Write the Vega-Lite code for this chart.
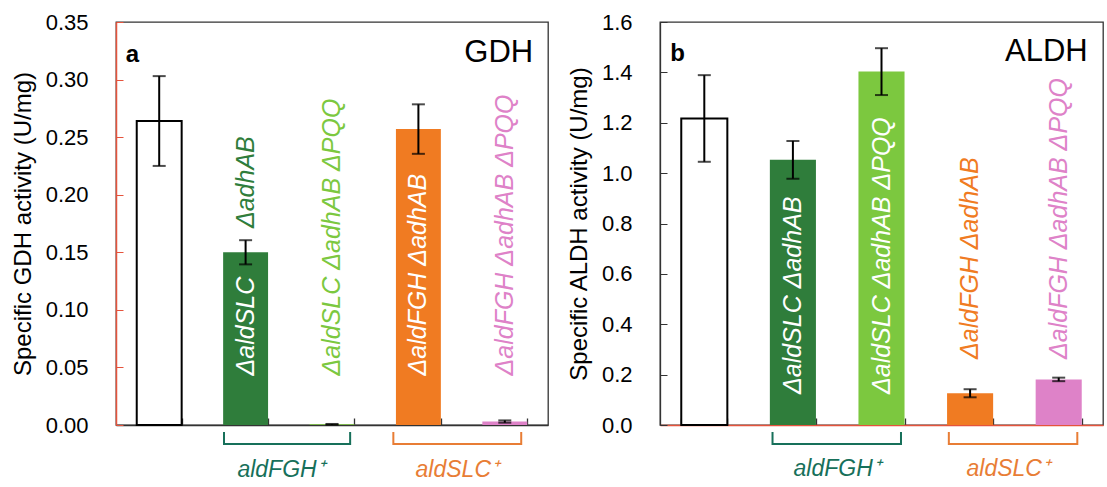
{
  "$schema": "https://vega.github.io/schema/vega-lite/v6.json",
  "background": "white",
  "padding": {"left": 10, "top": 10, "right": 0, "bottom": 0},
  "bounds": "flush",
  "spacing": 112,
  "config": {
    "font": "Liberation Sans",
    "view": {"stroke": "#333333", "strokeWidth": 1.3},
    "axis": {"grid": false, "labelColor": "black", "titleColor": "black", "labelFontSize": 22, "titleFontSize": 24, "titleFontWeight": "normal"}
  },
  "datasets": {
    "gdh": [
      {"strain": "WT", "mean": 0.264, "sd": 0.039},
      {"strain": "ΔaldSLC ΔadhAB", "mean": 0.150, "sd": 0.0105},
      {"strain": "ΔaldSLC ΔadhAB ΔPQQ", "mean": 0.0006, "sd": 0.0003},
      {"strain": "ΔaldFGH ΔadhAB", "mean": 0.257, "sd": 0.0215},
      {"strain": "ΔaldFGH ΔadhAB ΔPQQ", "mean": 0.003, "sd": 0.001}
    ],
    "aldh": [
      {"strain": "WT", "mean": 1.217, "sd": 0.172},
      {"strain": "ΔaldSLC ΔadhAB", "mean": 1.053, "sd": 0.075},
      {"strain": "ΔaldSLC ΔadhAB ΔPQQ", "mean": 1.403, "sd": 0.093},
      {"strain": "ΔaldFGH ΔadhAB", "mean": 0.126, "sd": 0.016},
      {"strain": "ΔaldFGH ΔadhAB ΔPQQ", "mean": 0.181, "sd": 0.007}
    ],
    "gdhNames": [
      {"strain": "ΔaldSLC ΔadhAB", "text": "ΔaldSLC", "at": 0.043, "tone": "in"},
      {"strain": "ΔaldSLC ΔadhAB", "text": "ΔadhAB", "at": 0.171, "tone": "out"},
      {"strain": "ΔaldSLC ΔadhAB ΔPQQ", "text": "ΔaldSLC ΔadhAB ΔPQQ", "at": 0.043, "tone": "out"},
      {"strain": "ΔaldFGH ΔadhAB", "text": "ΔaldFGH ΔadhAB", "at": 0.043, "tone": "in"},
      {"strain": "ΔaldFGH ΔadhAB ΔPQQ", "text": "ΔaldFGH ΔadhAB ΔPQQ", "at": 0.043, "tone": "out"}
    ],
    "aldhNames": [
      {"strain": "ΔaldSLC ΔadhAB", "text": "ΔaldSLC ΔadhAB", "at": 0.123, "tone": "in"},
      {"strain": "ΔaldSLC ΔadhAB ΔPQQ", "text": "ΔaldSLC ΔadhAB ΔPQQ", "at": 0.123, "tone": "in"},
      {"strain": "ΔaldFGH ΔadhAB", "text": "ΔaldFGH ΔadhAB", "at": 0.262, "tone": "out"},
      {"strain": "ΔaldFGH ΔadhAB ΔPQQ", "text": "ΔaldFGH ΔadhAB ΔPQQ", "at": 0.262, "tone": "out"}
    ],
    "gdhBrackets": [
      {"set": "aldFGH", "k": 1, "u": 1.25, "v": -0.006},
      {"set": "aldFGH", "k": 2, "u": 1.25, "v": -0.0165},
      {"set": "aldFGH", "k": 3, "u": 2.71, "v": -0.0165},
      {"set": "aldFGH", "k": 4, "u": 2.71, "v": -0.006},
      {"set": "aldSLC", "k": 1, "u": 3.21, "v": -0.006},
      {"set": "aldSLC", "k": 2, "u": 3.21, "v": -0.0165},
      {"set": "aldSLC", "k": 3, "u": 4.69, "v": -0.0165},
      {"set": "aldSLC", "k": 4, "u": 4.69, "v": -0.006}
    ],
    "aldhBrackets": [
      {"set": "aldFGH", "k": 1, "u": 1.27, "v": -0.028},
      {"set": "aldFGH", "k": 2, "u": 1.27, "v": -0.075},
      {"set": "aldFGH", "k": 3, "u": 2.72, "v": -0.075},
      {"set": "aldFGH", "k": 4, "u": 2.72, "v": -0.028},
      {"set": "aldSLC", "k": 1, "u": 3.26, "v": -0.028},
      {"set": "aldSLC", "k": 2, "u": 3.26, "v": -0.075},
      {"set": "aldSLC", "k": 3, "u": 4.71, "v": -0.075},
      {"set": "aldSLC", "k": 4, "u": 4.71, "v": -0.028}
    ],
    "gdhSets": [
      {"set": "aldFGH", "text": "aldFGH⁺", "u": 1.91, "v": -0.045},
      {"set": "aldSLC", "text": "aldSLC⁺", "u": 3.95, "v": -0.045}
    ],
    "aldhSets": [
      {"set": "aldFGH", "text": "aldFGH⁺", "u": 2.0, "v": -0.202},
      {"set": "aldSLC", "text": "aldSLC⁺", "u": 3.93, "v": -0.202}
    ]
  },
  "hconcat": [
    {
      "width": 432,
      "height": 403,
      "layer": [
        {
          "layer": [
            {
              "data": {"name": "gdh"},
              "transform": [{"filter": "datum.strain === 'WT'"}],
              "mark": {"type": "bar", "fill": "white", "stroke": "black", "strokeWidth": 2},
              "encoding": {
                "x": {"field": "strain", "type": "nominal", "sort": null,
                      "scale": {"domain": ["WT", "ΔaldSLC ΔadhAB", "ΔaldSLC ΔadhAB ΔPQQ", "ΔaldFGH ΔadhAB", "ΔaldFGH ΔadhAB ΔPQQ"], "paddingInner": 0.48, "paddingOuter": 0.24},
                      "axis": {"title": null, "labels": false, "tickBand": "extent", "tickSize": -7, "domainColor": "#333333", "tickColor": "#333333", "domainWidth": 1.3, "tickWidth": 1.3}},
                "y": {"field": "mean", "type": "quantitative", "title": "Specific GDH activity (U/mg)",
                      "scale": {"domain": [0, 0.35], "nice": false},
                      "axis": {"values": [0, 0.05, 0.1, 0.15, 0.2, 0.25, 0.3, 0.35], "format": ".2f",
                               "tickSize": -7, "labelPadding": 35, "titlePadding": 10, "domainColor": "#e5533c", "tickColor": "#e5533c", "domainWidth": 1.5}}
              }
            },
            {
              "data": {"name": "gdh"},
              "transform": [{"filter": "datum.strain !== 'WT'"}],
              "mark": {"type": "bar"},
              "encoding": {
                "x": {"field": "strain", "type": "nominal", "sort": null},
                "y": {"field": "mean", "type": "quantitative", "title": "Specific GDH activity (U/mg)"},
                "color": {"field": "strain", "type": "nominal", "legend": null,
                          "scale": {"domain": ["WT", "ΔaldSLC ΔadhAB", "ΔaldSLC ΔadhAB ΔPQQ", "ΔaldFGH ΔadhAB", "ΔaldFGH ΔadhAB ΔPQQ", "aldFGH", "aldSLC"],
                                    "range": ["#ffffff", "#2f7d3b", "#7cc83f", "#f07b22", "#de82c8", "#17705a", "#e87d35"]}}
              }
            },
            {
              "data": {"name": "gdh"},
              "mark": {"type": "errorbar", "ticks": {"size": 13, "thickness": 2, "color": "black"}, "rule": {"strokeWidth": 2, "color": "black"}},
              "encoding": {
                "x": {"field": "strain", "type": "nominal", "sort": null},
                "y": {"field": "mean", "type": "quantitative", "title": "Specific GDH activity (U/mg)"},
                "yError": {"field": "sd"}
              }
            },
            {
              "data": {"name": "gdhNames"},
              "transform": [{"filter": "datum.tone === 'in'"}],
              "mark": {"type": "text", "angle": 270, "align": "left", "baseline": "middle", "fontSize": 25, "fontStyle": "italic", "fill": "white"},
              "encoding": {
                "x": {"field": "strain", "type": "nominal", "sort": null},
                "y": {"field": "at", "type": "quantitative", "title": "Specific GDH activity (U/mg)"},
                "text": {"field": "text"}
              }
            },
            {
              "data": {"name": "gdhNames"},
              "transform": [{"filter": "datum.tone === 'out'"}],
              "mark": {"type": "text", "angle": 270, "align": "left", "baseline": "middle", "fontSize": 25, "fontStyle": "italic"},
              "encoding": {
                "x": {"field": "strain", "type": "nominal", "sort": null},
                "y": {"field": "at", "type": "quantitative", "title": "Specific GDH activity (U/mg)"},
                "text": {"field": "text"},
                "color": {"field": "strain", "type": "nominal"}
              }
            },
            {
              "data": {"values": [{"tag": "a"}]},
              "mark": {"type": "text", "align": "left", "baseline": "alphabetic", "fontSize": 24, "fontWeight": "bold", "dx": -11, "color": "black"},
              "encoding": {
                "x": {"datum": "WT", "bandPosition": 0},
                "y": {"datum": 0.315},
                "text": {"field": "tag"}
              }
            },
            {
              "data": {"values": [{"tag": "GDH"}]},
              "mark": {"type": "text", "align": "right", "baseline": "alphabetic", "fontSize": 31, "dx": 6, "color": "black"},
              "encoding": {
                "x": {"datum": "ΔaldFGH ΔadhAB ΔPQQ", "bandPosition": 1},
                "y": {"datum": 0.315},
                "text": {"field": "tag"}
              }
            }
          ]
        },
        {
          "layer": [
            {
              "data": {"name": "gdhBrackets"},
              "mark": {"type": "line", "strokeWidth": 2},
              "encoding": {
                "x": {"field": "u", "type": "quantitative", "scale": {"domain": [0, 5], "nice": false, "zero": false}, "axis": null},
                "y": {"field": "v", "type": "quantitative", "title": "Specific GDH activity (U/mg)"},
                "color": {"field": "set", "type": "nominal"},
                "order": {"field": "k"}
              }
            },
            {
              "data": {"name": "gdhSets"},
              "mark": {"type": "text", "align": "center", "baseline": "alphabetic", "fontSize": 23, "fontStyle": "italic"},
              "encoding": {
                "x": {"field": "u", "type": "quantitative"},
                "y": {"field": "v", "type": "quantitative", "title": "Specific GDH activity (U/mg)"},
                "text": {"field": "text"},
                "color": {"field": "set", "type": "nominal"}
              }
            }
          ]
        }
      ],
      "resolve": {"scale": {"x": "independent"}, "axis": {"x": "independent"}}
    },
    {
      "width": 443,
      "height": 403,
      "layer": [
        {
          "layer": [
            {
              "data": {"name": "aldh"},
              "transform": [{"filter": "datum.strain === 'WT'"}],
              "mark": {"type": "bar", "fill": "white", "stroke": "black", "strokeWidth": 2},
              "encoding": {
                "x": {"field": "strain", "type": "nominal", "sort": null,
                      "scale": {"domain": ["WT", "ΔaldSLC ΔadhAB", "ΔaldSLC ΔadhAB ΔPQQ", "ΔaldFGH ΔadhAB", "ΔaldFGH ΔadhAB ΔPQQ"], "paddingInner": 0.48, "paddingOuter": 0.24},
                      "axis": {"title": null, "labels": false, "tickBand": "extent", "tickSize": -7, "domainColor": "#e5533c", "tickColor": "#333333", "domainWidth": 1.5, "tickWidth": 1.3}},
                "y": {"field": "mean", "type": "quantitative", "title": "Specific ALDH activity (U/mg)",
                      "scale": {"domain": [0, 1.6], "nice": false},
                      "axis": {"values": [0, 0.2, 0.4, 0.6, 0.8, 1.0, 1.2, 1.4, 1.6], "format": ".1f",
                               "tickSize": -7, "labelPadding": 35, "titlePadding": 10, "domainColor": "#333333", "tickColor": "#333333", "domainWidth": 1.3}}
              }
            },
            {
              "data": {"name": "aldh"},
              "transform": [{"filter": "datum.strain !== 'WT'"}],
              "mark": {"type": "bar"},
              "encoding": {
                "x": {"field": "strain", "type": "nominal", "sort": null},
                "y": {"field": "mean", "type": "quantitative", "title": "Specific ALDH activity (U/mg)"},
                "color": {"field": "strain", "type": "nominal", "legend": null,
                          "scale": {"domain": ["WT", "ΔaldSLC ΔadhAB", "ΔaldSLC ΔadhAB ΔPQQ", "ΔaldFGH ΔadhAB", "ΔaldFGH ΔadhAB ΔPQQ", "aldFGH", "aldSLC"],
                                    "range": ["#ffffff", "#2f7d3b", "#7cc83f", "#f07b22", "#de82c8", "#17705a", "#e87d35"]}}
              }
            },
            {
              "data": {"name": "aldh"},
              "mark": {"type": "errorbar", "ticks": {"size": 13, "thickness": 2, "color": "black"}, "rule": {"strokeWidth": 2, "color": "black"}},
              "encoding": {
                "x": {"field": "strain", "type": "nominal", "sort": null},
                "y": {"field": "mean", "type": "quantitative", "title": "Specific ALDH activity (U/mg)"},
                "yError": {"field": "sd"}
              }
            },
            {
              "data": {"name": "aldhNames"},
              "transform": [{"filter": "datum.tone === 'in'"}],
              "mark": {"type": "text", "angle": 270, "align": "left", "baseline": "middle", "fontSize": 25, "fontStyle": "italic", "fill": "white"},
              "encoding": {
                "x": {"field": "strain", "type": "nominal", "sort": null},
                "y": {"field": "at", "type": "quantitative", "title": "Specific ALDH activity (U/mg)"},
                "text": {"field": "text"}
              }
            },
            {
              "data": {"name": "aldhNames"},
              "transform": [{"filter": "datum.tone === 'out'"}],
              "mark": {"type": "text", "angle": 270, "align": "left", "baseline": "middle", "fontSize": 25, "fontStyle": "italic"},
              "encoding": {
                "x": {"field": "strain", "type": "nominal", "sort": null},
                "y": {"field": "at", "type": "quantitative", "title": "Specific ALDH activity (U/mg)"},
                "text": {"field": "text"},
                "color": {"field": "strain", "type": "nominal"}
              }
            },
            {
              "data": {"values": [{"tag": "b"}]},
              "mark": {"type": "text", "align": "left", "baseline": "alphabetic", "fontSize": 24, "fontWeight": "bold", "dx": -11, "color": "black"},
              "encoding": {
                "x": {"datum": "WT", "bandPosition": 0},
                "y": {"datum": 1.444},
                "text": {"field": "tag"}
              }
            },
            {
              "data": {"values": [{"tag": "ALDH"}]},
              "mark": {"type": "text", "align": "right", "baseline": "alphabetic", "fontSize": 31, "dx": 6, "color": "black"},
              "encoding": {
                "x": {"datum": "ΔaldFGH ΔadhAB ΔPQQ", "bandPosition": 1},
                "y": {"datum": 1.444},
                "text": {"field": "tag"}
              }
            }
          ]
        },
        {
          "layer": [
            {
              "data": {"name": "aldhBrackets"},
              "mark": {"type": "line", "strokeWidth": 2},
              "encoding": {
                "x": {"field": "u", "type": "quantitative", "scale": {"domain": [0, 5], "nice": false, "zero": false}, "axis": null},
                "y": {"field": "v", "type": "quantitative", "title": "Specific ALDH activity (U/mg)"},
                "color": {"field": "set", "type": "nominal"},
                "order": {"field": "k"}
              }
            },
            {
              "data": {"name": "aldhSets"},
              "mark": {"type": "text", "align": "center", "baseline": "alphabetic", "fontSize": 23, "fontStyle": "italic"},
              "encoding": {
                "x": {"field": "u", "type": "quantitative"},
                "y": {"field": "v", "type": "quantitative", "title": "Specific ALDH activity (U/mg)"},
                "text": {"field": "text"},
                "color": {"field": "set", "type": "nominal"}
              }
            }
          ]
        }
      ],
      "resolve": {"scale": {"x": "independent"}, "axis": {"x": "independent"}}
    }
  ]
}
